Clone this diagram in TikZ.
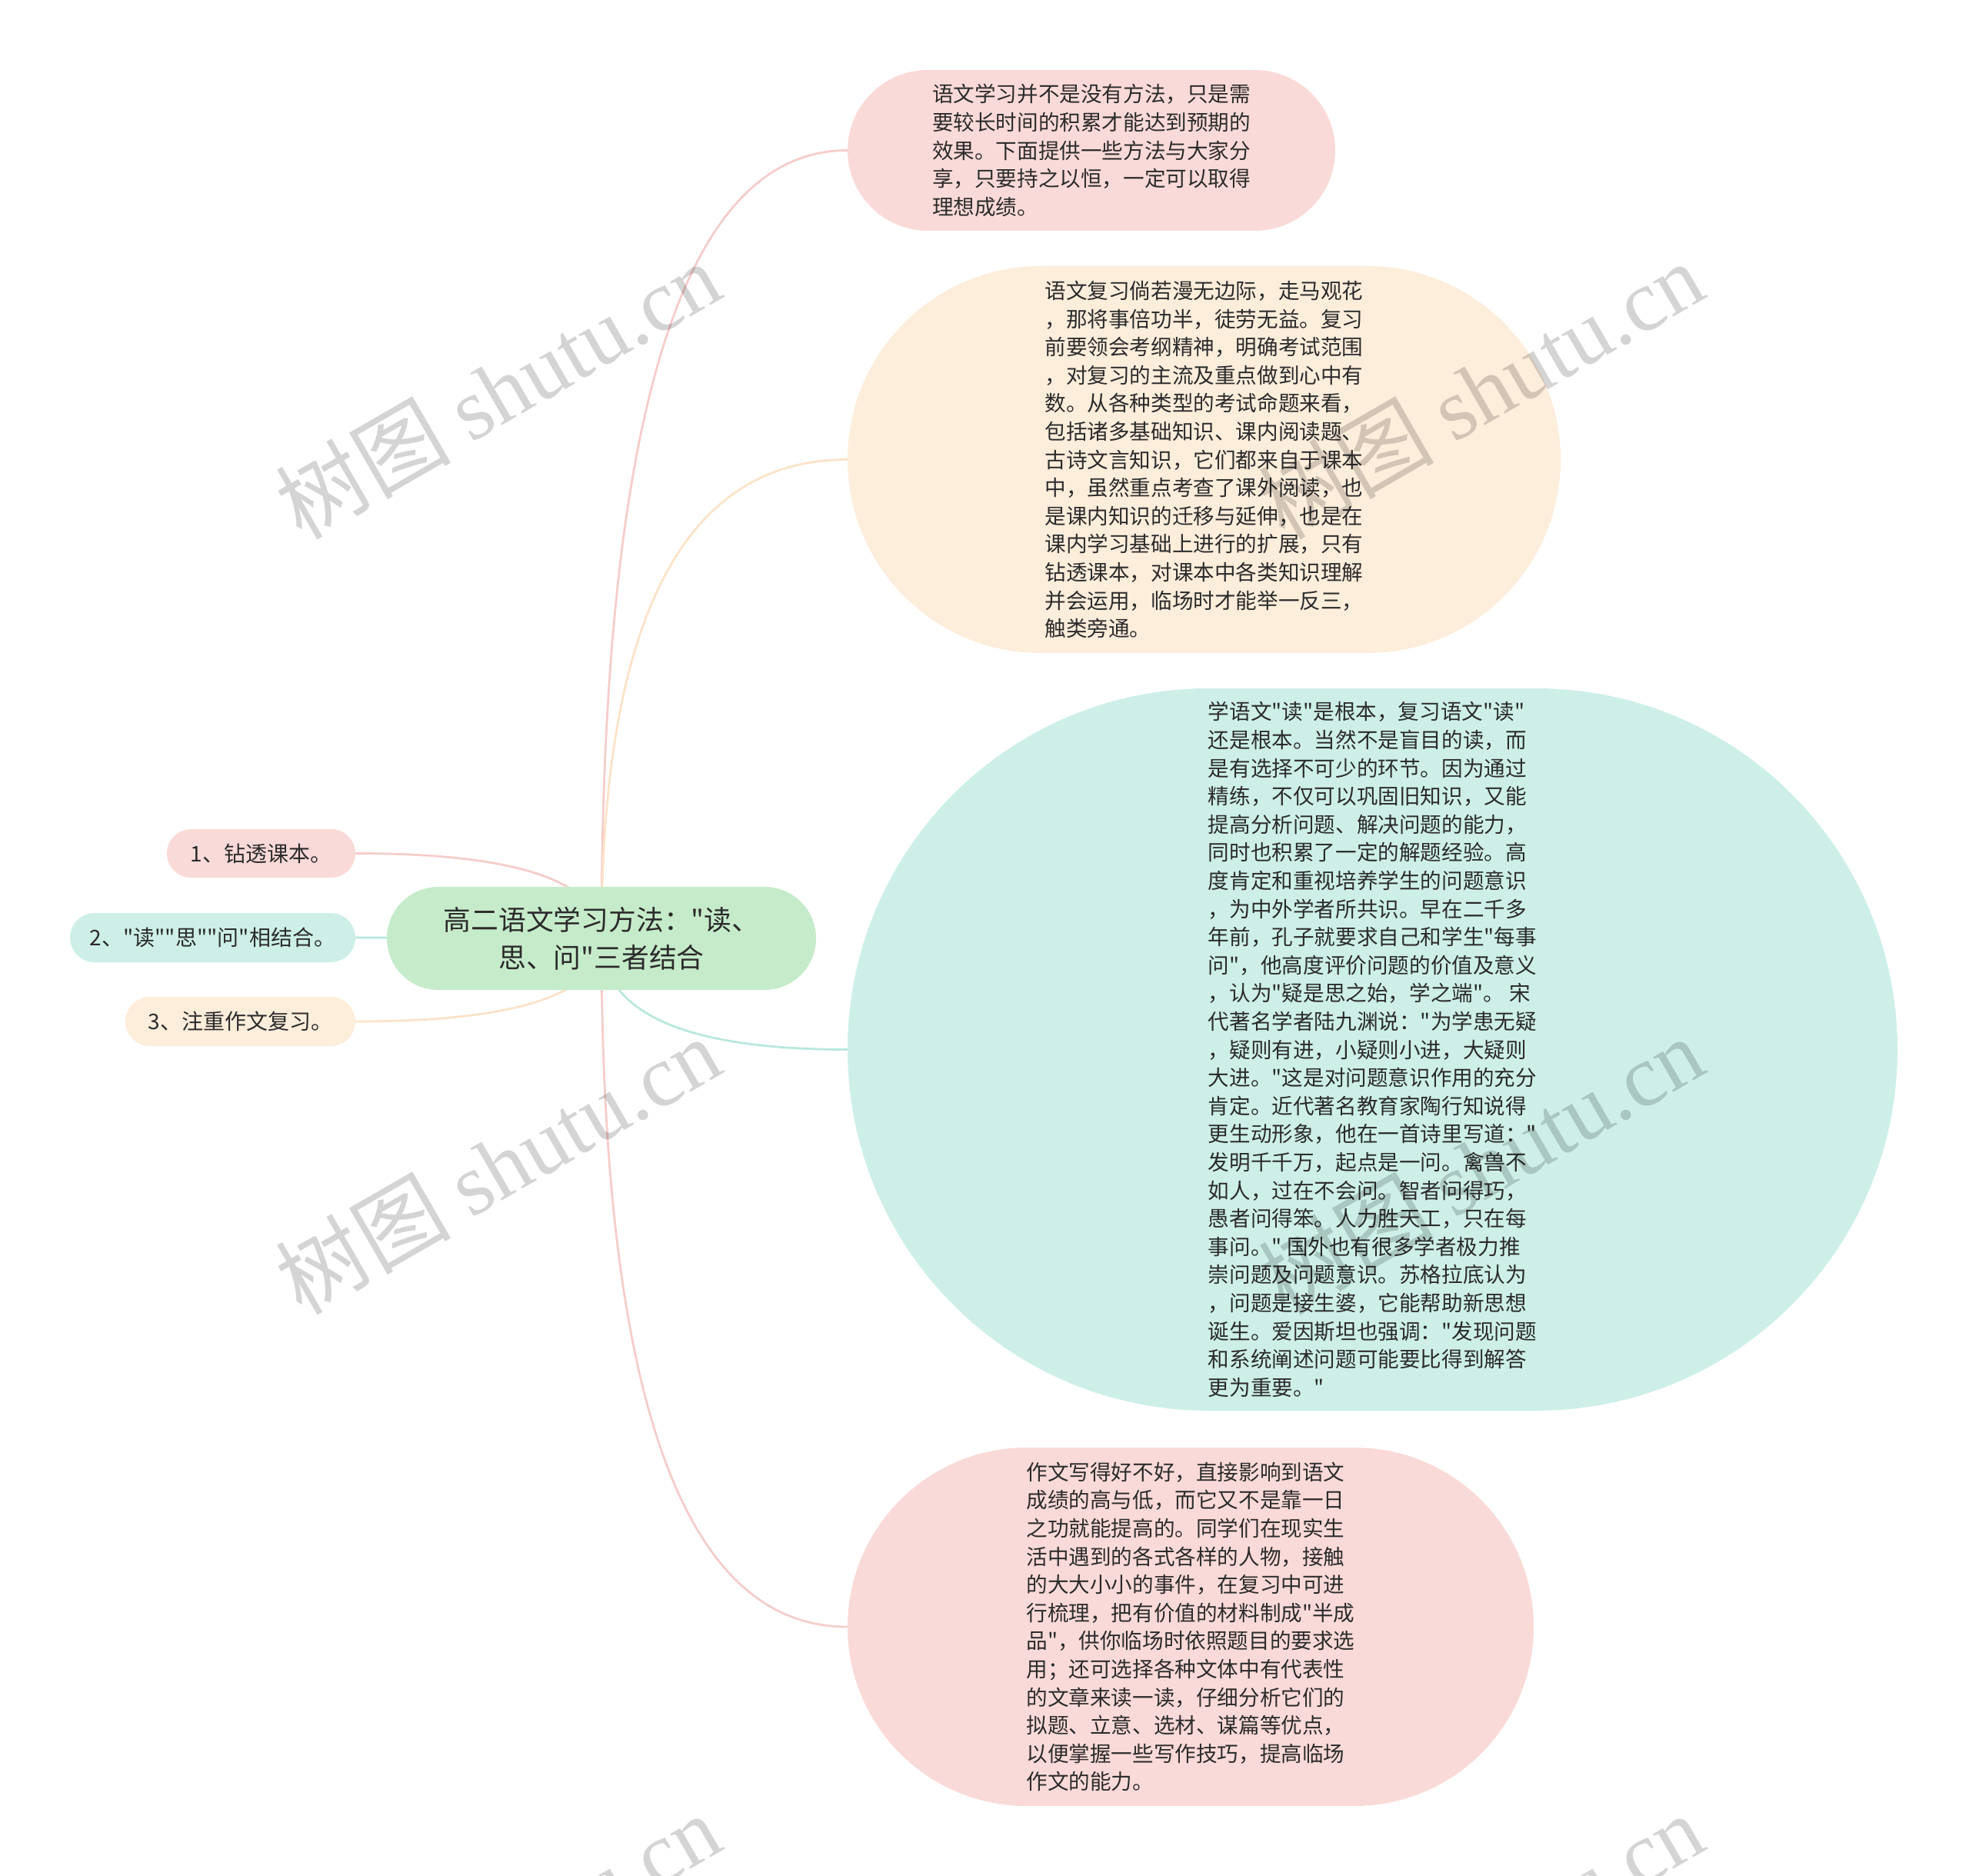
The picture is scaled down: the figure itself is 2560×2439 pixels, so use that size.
\documentclass[tikz,border=0pt]{standalone}
\usepackage{fontspec}
\setmainfont{Noto Sans CJK SC}[Ligatures=TeXOff]
\newfontfamily\wmlatin{Liberation Serif}
\usetikzlibrary{calc,backgrounds}
\definecolor{pinkF}{HTML}{FADAD8}
\definecolor{peachF}{HTML}{FDEDDB}
\definecolor{tealF}{HTML}{CDEFE8}
\definecolor{greenF}{HTML}{C6EBCA}
\definecolor{pinkL}{HTML}{F5CDCB}
\definecolor{peachL}{HTML}{FCE3C8}
\definecolor{tealL}{HTML}{B9E8DE}
\definecolor{txt}{HTML}{2B2B2B}
\tikzset{
  bubble/.style={fill=#1, draw=none, inner sep=0pt, text=txt, align=left,
    font=\fontsize{13.8pt}{18.3pt}\selectfont},
  leaf/.style={fill=#1, draw=none, inner sep=0pt, text=txt, align=center,
    font=\fontsize{14pt}{16pt}\selectfont},
  rootbox/.style={fill=greenF, draw=none, inner sep=0pt, text=txt, align=center,
    font=\fontsize{17.9pt}{24.5pt}\selectfont},
  link/.style={draw=#1, line width=1.4pt, line cap=round},
  wmark/.style={rotate=30, text=black, text opacity=0.17, inner sep=0pt,
    font=\fontsize{57pt}{57pt}\selectfont}
}
\newcommand\mylink[2]{%
  \draw[link=#2] (root.center) .. controls ($(root.center)!0.6667!(root.center |- #1)$)
    and ($(#1)!0.6667!(root.center |- #1)$) .. (#1);}
\newcommand\wmtext{树图 {\wmlatin shutu.cn}}
\begin{document}
\begin{tikzpicture}[x=0.5pt,y=-0.5pt]
\useasboundingbox (0,0) rectangle (2560,2439);
\clip (0,0) rectangle (2560,2439);

\node[rootbox, minimum width=279pt, minimum height=67pt, rounded corners=33.5pt] (root) at (782,1220)
  {高二语文学习方法："读、\\思、问"三者结合};

\node[leaf=pinkF, minimum width=122.5pt, minimum height=31.5pt, rounded corners=15.75pt] (n1) at (339.5,1109.5)
  {1、钻透课本。};
\node[leaf=tealF, minimum width=185.5pt, minimum height=32pt, rounded corners=16pt] (n2) at (276.5,1219)
  {2、"读""思""问"相结合。};
\node[leaf=peachF, minimum width=149.5pt, minimum height=32pt, rounded corners=16pt] (n3) at (312.5,1328)
  {3、注重作文复习。};

\node[bubble=pinkF, minimum width=317pt, minimum height=104.5pt, rounded corners=52.25pt] (A) at (1419,195.5)
  {语文学习并不是没有方法，只是需\\
要较长时间的积累才能达到预期的\\
效果。下面提供一些方法与大家分\\
享，只要持之以恒，一定可以取得\\
理想成绩。};

\node[bubble=peachF, minimum width=463.5pt, minimum height=251.5pt, rounded corners=125.75pt] (B) at (1565.5,597.5)
  {语文复习倘若漫无边际，走马观花\\
，那将事倍功半，徒劳无益。复习\\
前要领会考纲精神，明确考试范围\\
，对复习的主流及重点做到心中有\\
数。从各种类型的考试命题来看，\\
包括诸多基础知识、课内阅读题、\\
古诗文言知识，它们都来自于课本\\
中，虽然重点考查了课外阅读，也\\
是课内知识的迁移与延伸，也是在\\
课内学习基础上进行的扩展，只有\\
钻透课本，对课本中各类知识理解\\
并会运用，临场时才能举一反三，\\
触类旁通。};

\node[bubble=tealF, minimum width=682.5pt, minimum height=469.5pt, rounded corners=234.75pt] (C) at (1784.5,1364.5)
  {学语文"读"是根本，复习语文"读"\\
还是根本。当然不是盲目的读，而\\
是有选择不可少的环节。因为通过\\
精练，不仅可以巩固旧知识，又能\\
提高分析问题、解决问题的能力，\\
同时也积累了一定的解题经验。高\\
度肯定和重视培养学生的问题意识\\
，为中外学者所共识。早在二千多\\
年前，孔子就要求自己和学生"每事\\
问"，他高度评价问题的价值及意义\\
，认为"疑是思之始，学之端"。 宋\\
代著名学者陆九渊说："为学患无疑\\
，疑则有进，小疑则小进，大疑则\\
大进。"这是对问题意识作用的充分\\
肯定。近代著名教育家陶行知说得\\
更生动形象，他在一首诗里写道："\\
发明千千万，起点是一问。禽兽不\\
如人，过在不会问。智者问得巧，\\
愚者问得笨。人力胜天工，只在每\\
事问。" 国外也有很多学者极力推\\
崇问题及问题意识。苏格拉底认为\\
，问题是接生婆，它能帮助新思想\\
诞生。爱因斯坦也强调："发现问题\\
和系统阐述问题可能要比得到解答\\
更为重要。"};

\node[bubble=pinkF, minimum width=446pt, minimum height=233pt, rounded corners=116.5pt] (D) at (1548,2115)
  {作文写得好不好，直接影响到语文\\
成绩的高与低，而它又不是靠一日\\
之功就能提高的。同学们在现实生\\
活中遇到的各式各样的人物，接触\\
的大大小小的事件，在复习中可进\\
行梳理，把有价值的材料制成"半成\\
品"，供你临场时依照题目的要求选\\
用；还可选择各种文体中有代表性\\
的文章来读一读，仔细分析它们的\\
拟题、立意、选材、谋篇等优点，\\
以便掌握一些写作技巧，提高临场\\
作文的能力。};

% connectors, drawn behind the nodes
\begin{scope}[on background layer]
  \fill[white] (0,0) rectangle (2560,2439);
  \mylink{A.west}{pinkL}
  \mylink{B.west}{peachL}
  \mylink{C.west}{tealL}
  \mylink{D.west}{pinkL}
  \mylink{n1.east}{pinkL}
  \mylink{n2.east}{tealL}
  \mylink{n3.east}{peachL}
\end{scope}

% watermarks
\node[wmark] (w1) at (647,507) {\wmtext};
\node[wmark] (w2) at (647,1515) {\wmtext};
\node[wmark] (w3) at (1925,507) {\wmtext};
\node[wmark] (w4) at (1925,1515) {\wmtext};
\node[wmark] (w5) at (647,2525) {\wmtext};
\node[wmark] (w6) at (1925,2525) {\wmtext};
\end{tikzpicture}
\end{document}
